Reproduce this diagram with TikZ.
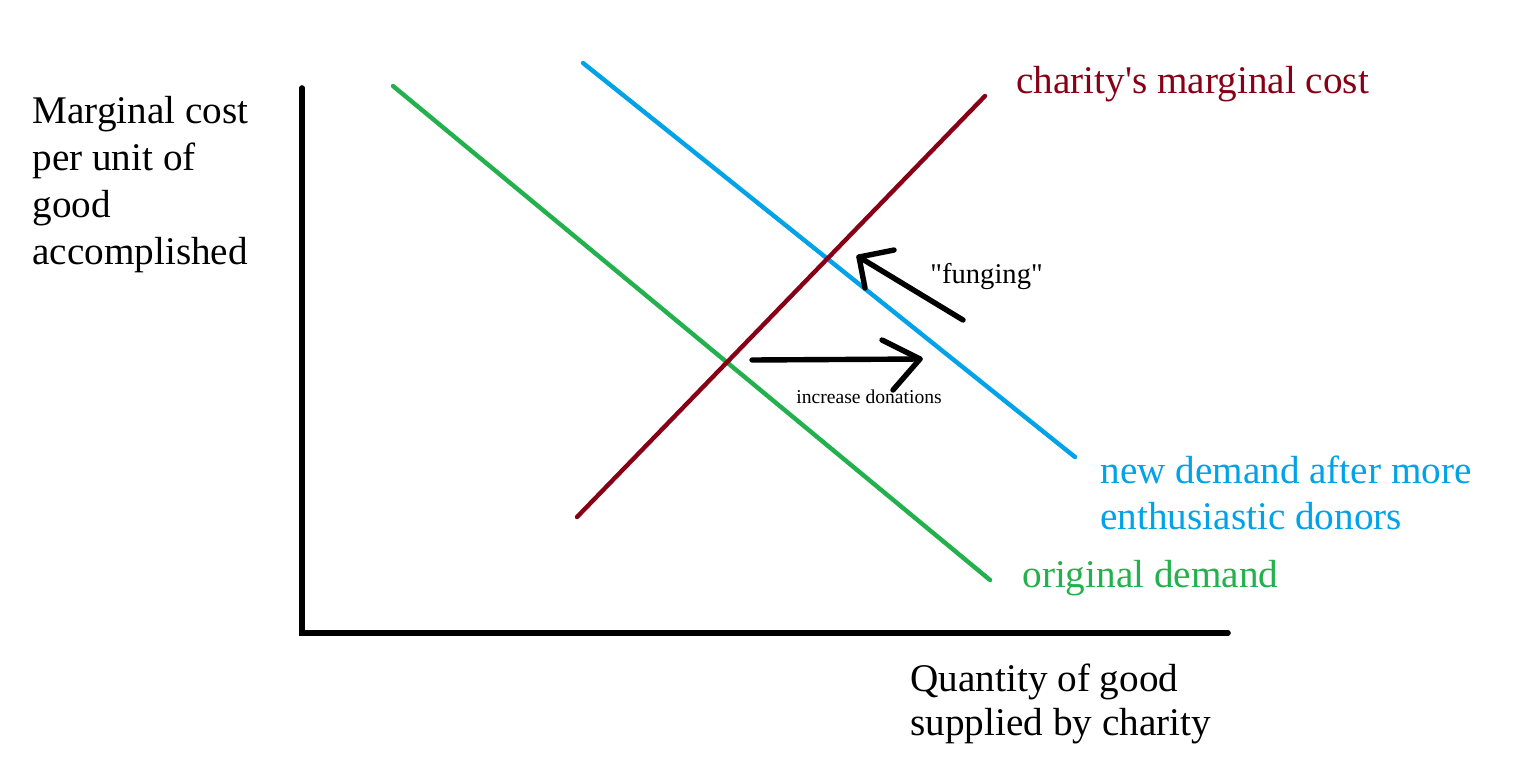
\documentclass[tikz,border=0pt]{standalone}
\usepackage{fontspec}
\setmainfont{Liberation Serif}[Ligatures=TeXOff]
\definecolor{mcred}{RGB}{136,0,21}
\definecolor{ndblue}{RGB}{0,162,232}
\definecolor{odgreen}{RGB}{34,177,76}
\begin{document}
\begin{tikzpicture}[x=0.5pt,y=-0.5pt,
  bigtxt/.style={anchor=base west,inner sep=0pt,font=\fontsize{19.6pt}{23pt}\selectfont},
  curve/.style={line width=2.2pt,line cap=round},
  axis/.style={line width=2.8pt,line cap=round},
  shiftarrow/.style={line width=2.7pt,line cap=round,line join=round}]
\useasboundingbox[fill=white] (0,0) rectangle (1534,771);
% axes
\coordinate (ytop) at (302,88);
\coordinate (origin) at (302,633);
\coordinate (xend) at (1228,633);
\draw[axis] (ytop) -- (origin) -- (xend);
% curves
\coordinate (g1) at (393,86);
\coordinate (g2) at (990,580);
\coordinate (b1) at (583,63);
\coordinate (b2) at (1075,457);
\coordinate (r1) at (577,517);
\coordinate (r2) at (985,96);
\draw[curve,odgreen] (g1) -- (g2);
\draw[curve,ndblue] (b1) -- (b2);
\draw[curve,mcred] (r1) -- (r2);
% funging arrow
\coordinate (ftail) at (963,320);
\coordinate (ftip) at (859,257);
\coordinate (fa1) at (894,250);
\coordinate (fa2) at (865,288);
\draw[shiftarrow] (ftail) -- (ftip);
\draw[shiftarrow] (fa1) -- (ftip) -- (fa2);
% increase arrow
\coordinate (itail) at (752,360);
\coordinate (itip) at (920,359);
\coordinate (ia1) at (882,340);
\coordinate (ia2) at (893,390);
\draw[shiftarrow] (itail) -- (itip);
\draw[shiftarrow] (ia1) -- (itip) -- (ia2);
% labels
\node[anchor=base west,inner sep=0pt,font=\fontsize{14.3pt}{17pt}\selectfont] (funging) at (930,283) {"funging"};
\node[anchor=base west,inner sep=0pt,font=\fontsize{9.8pt}{12pt}\selectfont] (incdon) at (796,403) {increase donations};
\node[bigtxt] (yl1) at (32,123) {Marginal cost};
\node[bigtxt] (yl2) at (32,170) {per unit of};
\node[bigtxt] (yl3) at (32,217) {good};
\node[bigtxt] (yl4) at (32,264) {accomplished};
\node[bigtxt,text=mcred] (mclab) at (1016,93) {charity's marginal cost};
\node[bigtxt,text=ndblue] (nd1) at (1100,483) {new demand after more};
\node[bigtxt,text=ndblue] (nd2) at (1100,529) {enthusiastic donors};
\node[bigtxt,text=odgreen] (odlab) at (1022,587) {original demand};
\node[bigtxt] (xl1) at (910,691) {Quantity of good};
\node[bigtxt] (xl2) at (910,735) {supplied by charity};
\end{tikzpicture}
\end{document}
